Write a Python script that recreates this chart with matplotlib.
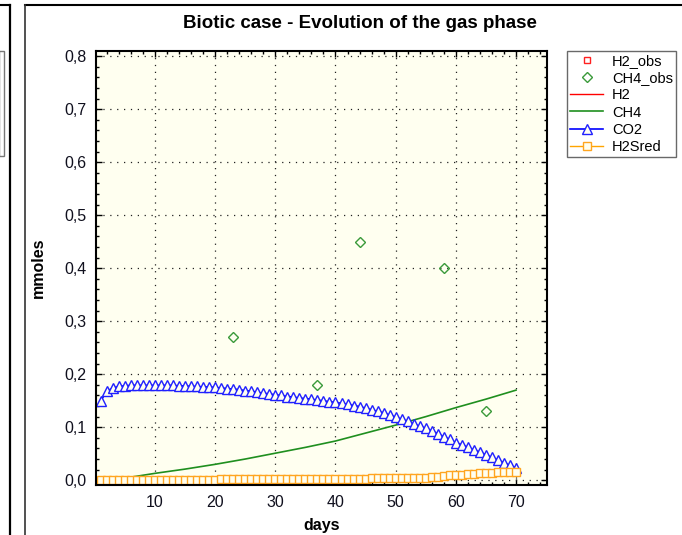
import numpy as np
import matplotlib
matplotlib.use("Agg")
from matplotlib import pyplot as plt
from matplotlib.lines import Line2D
import matplotlib.patches as patches
from matplotlib.ticker import MultipleLocator, FuncFormatter

plt.rcParams['font.family'] = ['Liberation Sans', 'DejaVu Sans']

# observed CH4 (no H2 observations available)
h2_obs_days = []
h2_obs = []
ch4_obs_days = [23, 37, 44, 58, 65]
ch4_obs = [0.27, 0.18, 0.45, 0.40, 0.13]

# simulated series, one value per day
days = np.arange(1, 71)
co2 = [0.150, 0.168, 0.174, 0.177, 0.178, 0.179, 0.179, 0.179, 0.179, 0.179,
       0.179, 0.179, 0.179, 0.178, 0.178, 0.177, 0.177, 0.176, 0.176, 0.175,
       0.174, 0.173, 0.172, 0.171, 0.169, 0.168, 0.166, 0.164, 0.163, 0.161,
       0.160, 0.158, 0.157, 0.155, 0.154, 0.153, 0.151, 0.150, 0.148, 0.147,
       0.145, 0.143, 0.141, 0.139, 0.136, 0.133, 0.130, 0.127, 0.123, 0.119,
       0.115, 0.111, 0.106, 0.102, 0.098, 0.093, 0.088, 0.082, 0.077, 0.071,
       0.067, 0.062, 0.057, 0.053, 0.048, 0.043, 0.038, 0.033, 0.028, 0.023]
h2sred = [0.001] * 20 + [0.002] * 15 + [0.003] * 10 + [0.004] * 5 + [0.005] * 5 + \
         [0.006, 0.007, 0.008, 0.009, 0.009, 0.010, 0.011, 0.012, 0.013, 0.013,
          0.014, 0.015, 0.015, 0.016, 0.016]
# simulated H2 stays off the visible range
h2_days = []
h2 = []

ch4_days = [1, 5, 10, 15, 20, 25, 30, 35, 40, 45, 50, 55, 60, 65, 70]
ch4 = [0.001, 0.004, 0.013, 0.021, 0.030, 0.040, 0.051, 0.062, 0.074, 0.089,
       0.104, 0.120, 0.137, 0.153, 0.170]

W, H = 682, 535
bg = '#fffff0'

fig = plt.figure(figsize=(W / 100, H / 100), dpi=100)
ax = fig.add_axes([96 / W, (H - 485) / H, (547 - 96) / W, (485 - 51) / H])
ax.set_facecolor(bg)

ax.plot(h2_obs_days, h2_obs, 's', ms=4, mfc='none', mec='#ff2020', mew=1, label='H2_obs')
ax.plot(ch4_obs_days, ch4_obs, 'D', ms=5, mfc='none', mec='#3a9a3a', mew=1, label='CH4_obs')
ax.plot(h2_days, h2, '-', color='#ff0000', lw=1, label='H2')
ax.plot(ch4_days, ch4, '-', color='#1f8f1f', lw=1.2, label='CH4')
ax.plot(days, co2, '-^', color='#0000ff', lw=1.2, ms=6.5, mfc=bg, mec='#2020ff', mew=1,
        label='CO2')
ax.plot(days, h2sred, '-s', color='#ffa500', lw=1, ms=5.5, mfc=bg, mec='#ffa520', mew=1,
        label='H2Sred')

ax.set_xlim(0.2, 75.15)
ax.set_ylim(-0.009, 0.81)
ax.set_xticks([10, 20, 30, 40, 50, 60, 70])
ax.xaxis.set_minor_locator(MultipleLocator(2))
ax.yaxis.set_major_locator(MultipleLocator(0.1))
ax.yaxis.set_minor_locator(MultipleLocator(0.02))
ax.yaxis.set_major_formatter(FuncFormatter(lambda v, p: f"{v:.1f}".replace('.', ',')))
ax.tick_params(which='both', direction='in', top=True, right=True, labelsize=11.5,
               pad=7, width=1, labelcolor='#10101e')
ax.tick_params(which='major', length=4.5)
ax.tick_params(which='minor', length=2.5)
ax.grid(True, which='major', color='#222222', lw=0.9, ls=(0, (1, 4.5)))
for s in ax.spines.values():
    s.set_linewidth(1.5)

ax.set_xlabel('days', fontsize=11.5, fontweight='bold', labelpad=6)
ax.set_ylabel('mmoles', fontsize=11.5, fontweight='bold', labelpad=13)
fig.text(360 / W, 1 - 24 / H, 'Biotic case - Evolution of the gas phase',
         fontsize=13.5, fontweight='bold', ha='center', va='center')

leg = fig.legend(loc='upper left', bbox_to_anchor=(567 / W, 1 - 51 / H),
                 bbox_transform=fig.transFigure, fontsize=10.5, frameon=True,
                 fancybox=False, handlelength=2.3, handletextpad=0.6,
                 labelspacing=0.22, borderpad=0.2, borderaxespad=0)
leg.get_frame().set_edgecolor('#444444')
leg.get_frame().set_linewidth(1)


# panel borders around the chart
def fig_line(xs, ys, **kw):
    fig.add_artist(Line2D([x / W for x in xs], [1 - y / H for y in ys],
                          transform=fig.transFigure, **kw))


fig_line([0, 10], [5, 5], color='black', lw=1.5)
fig_line([10, 10], [5, H], color='black', lw=1.6)
fig_line([25, W], [5, 5], color='black', lw=1.5)
fig_line([25, 25], [5, H], color='#333333', lw=1.2)
fig.add_artist(patches.Rectangle((-1 / W, 1 - 156 / H), 5 / W, 105 / H,
                                 transform=fig.transFigure, fill=False,
                                 edgecolor='#777777', lw=1))

fig.savefig('out.png', dpi=100)
